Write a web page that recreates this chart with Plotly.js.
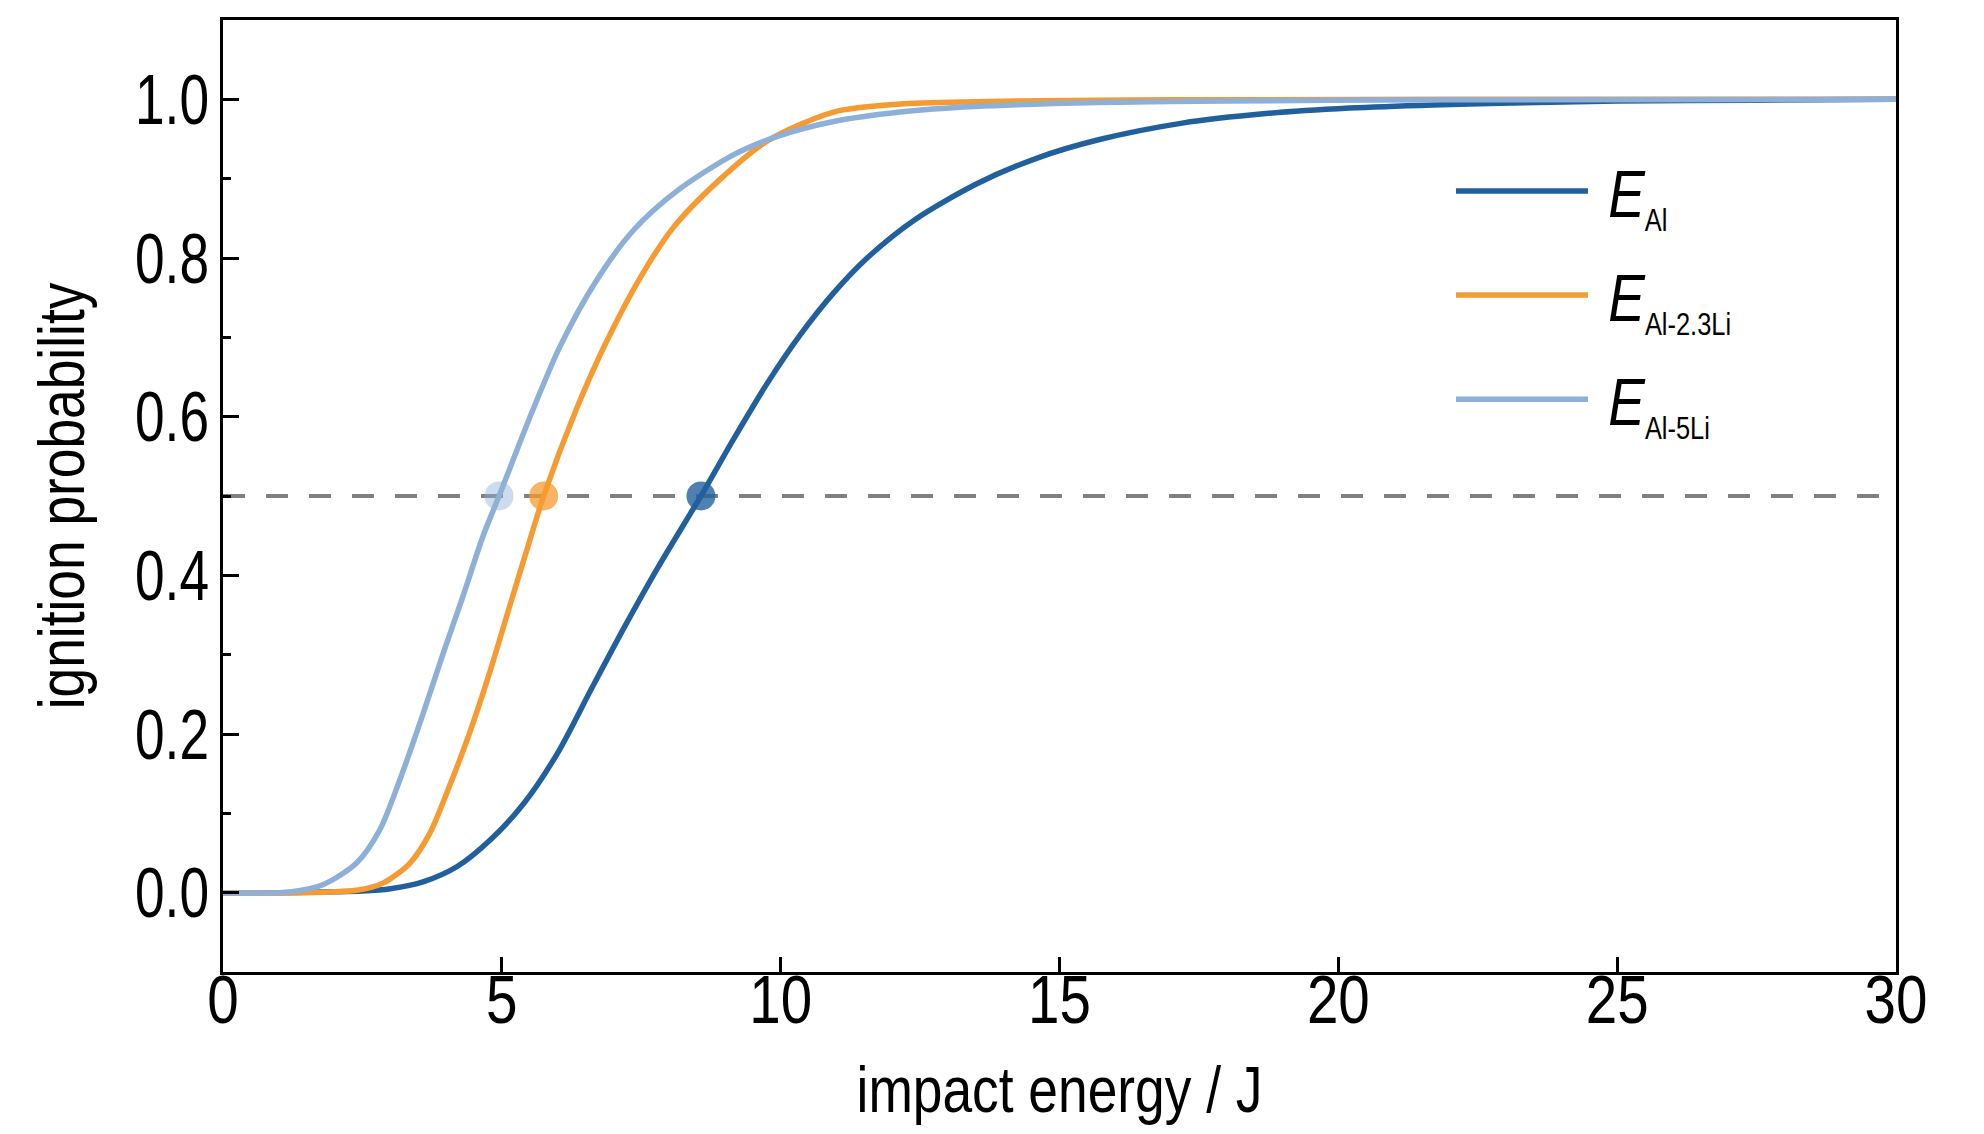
<!DOCTYPE html>
<html>
<head>
<meta charset="utf-8">
<script src="https://cdn.plot.ly/plotly-3.0.1.min.js"></script>
<style>
  html, body { margin: 0; padding: 0; background: #fff; }
  #graph { width: 1984px; height: 1134px; }
</style>
</head>
<body>
<div id="graph"></div>
<script>
// impact energy (J) vs. ignition probability
const energyAl = [0, 1, 2, 2.5, 3, 3.6, 4.2, 4.8, 5.4, 6, 6.6, 7.2, 7.8, 8.57, 9.15, 9.75, 10.35, 10.95, 11.55, 12.4, 13.5, 14.6, 15.7, 17.2, 18.7, 20.2, 21.7, 22.9, 25, 27.5, 30];
const probAl   = [0, 0, 0.001, 0.002, 0.005, 0.014, 0.033, 0.067, 0.113, 0.176, 0.256, 0.335, 0.41, 0.5, 0.571, 0.641, 0.703, 0.756, 0.8, 0.848, 0.893, 0.926, 0.949, 0.97, 0.982, 0.989, 0.993, 0.995, 0.998, 0.999, 1.0];

const energyAl23 = [0, 1.5, 2.4, 2.87, 3.35, 3.71, 4.06, 4.42, 4.78, 5.14, 5.44, 5.75, 6.34, 6.88, 7.48, 8.07, 8.85, 9.75, 10.95, 12.14, 13.47, 15.7, 18, 22, 30];
const probAl23   = [0, 0, 0.003, 0.012, 0.037, 0.075, 0.134, 0.201, 0.277, 0.361, 0.43, 0.5, 0.61, 0.695, 0.775, 0.838, 0.895, 0.947, 0.984, 0.994, 0.997, 0.999, 0.9995, 1.0, 1.0];

const energyAl5 = [0, 1.2, 1.79, 2.39, 2.81, 3.17, 3.59, 3.95, 4.3, 4.66, 4.95, 5.53, 6.04, 6.7, 7.36, 8.13, 9.15, 9.93, 10.95, 12.14, 13.47, 15.7, 18, 22, 30];
const probAl5   = [0, 0.001, 0.01, 0.037, 0.079, 0.142, 0.226, 0.302, 0.373, 0.449, 0.5, 0.604, 0.688, 0.772, 0.835, 0.884, 0.93, 0.953, 0.972, 0.984, 0.991, 0.996, 0.998, 0.9995, 1.0];

// E50 points (50 % ignition)
const e50 = [8.57, 5.75, 4.95];
const p50 = [0.5, 0.5, 0.5];

const seriesNames = ['Al', 'Al-2.3Li', 'Al-5Li'];
const lineColors = ['#22609d', '#f69b31', '#8eafd7'];
const dotColors = ['rgba(34,96,157,0.8)', 'rgba(246,155,49,0.75)', 'rgba(142,175,215,0.45)'];

// no Arial Narrow here: use Liberation Sans and squeeze it afterwards
const FONT = '"Liberation Sans", Arial, sans-serif';
const NARROW = 0.82;
const NARROW_YTICK = 0.76;

function legendName(s) {
    return '&nbsp;<i>E</i><sub><span style="font-size:31px">' + s + '</span></sub>';
}

var data = [];

// half-probability guide
data.push({
    x: [0, 30],
    y: [0.5, 0.5],
    mode: 'lines',
    type: 'scatter',
    line: {color: '#808080', width: 4, dash: '22px,21px'},
    showlegend: false,
    hoverinfo: 'skip'
});

for (let i = 0; i < 3; i++) {
    data.push({
        x: [e50[i]],
        y: [p50[i]],
        mode: 'markers',
        type: 'scatter',
        marker: {color: dotColors[i], size: 29, line: {width: 0}},
        showlegend: false
    });
}

const curves = [[energyAl, probAl], [energyAl23, probAl23], [energyAl5, probAl5]];
for (let i = 0; i < 3; i++) {
    data.push({
        x: curves[i][0],
        y: curves[i][1],
        name: legendName(seriesNames[i]),
        mode: 'lines',
        type: 'scatter',
        line: {color: lineColors[i], width: 5.5, shape: 'spline', smoothing: 0.8},
        legendgroup: 'g' + i
    });
}

const layout = {
    width: 1984,
    height: 1134,
    paper_bgcolor: '#fff',
    plot_bgcolor: '#fff',
    margin: {l: 223, r: 88, t: 20, b: 162},
    font: {family: FONT, color: '#000'},
    showlegend: true,
    legend: {
        x: 0.734,
        y: 0.873,
        xanchor: 'left',
        yanchor: 'top',
        bgcolor: 'rgba(0,0,0,0)',
        font: {family: FONT, size: 67, color: '#000'},
        itemwidth: 132,
        traceorder: 'grouped',
        tracegroupgap: 14
    },
    xaxis: {
        range: [0, 30],
        tick0: 0,
        dtick: 5,
        ticks: 'inside',
        ticklen: 15,
        tickwidth: 3,
        tickcolor: '#000',
        ticklabelstandoff: -35,
        showline: true,
        linewidth: 3,
        linecolor: '#000',
        mirror: true,
        showgrid: false,
        zeroline: false,
        automargin: false,
        tickfont: {size: 69},
        title: {text: 'impact energy / J', font: {size: 65}, standoff: 30}
    },
    yaxis: {
        range: [-0.1, 1.1],
        tick0: 0,
        dtick: 0.2,
        tickformat: '.1f',
        ticks: 'inside',
        ticklen: 16,
        tickwidth: 3,
        tickcolor: '#000',
        ticklabelstandoff: -3,
        minor: {dtick: 0.1, ticks: 'inside', ticklen: 8, tickwidth: 3, tickcolor: '#000', showgrid: false},
        showline: true,
        linewidth: 3,
        linecolor: '#000',
        mirror: true,
        showgrid: false,
        zeroline: false,
        automargin: false,
        tickfont: {size: 70},
        title: {text: 'ignition probability', font: {size: 65}, standoff: 6}
    }
};

function squeezeText(gd) {
    gd.querySelectorAll('text').forEach(function(t) {
        var w = t.getComputedTextLength();
        if (w > 0) {
            var k = t.parentNode.classList.contains('ytick') ? NARROW_YTICK : NARROW;
            t.setAttribute('textLength', (w * k).toFixed(1));
            t.setAttribute('lengthAdjust', 'spacingAndGlyphs');
        }
    });
}

Plotly.newPlot('graph', data, layout, {displayModeBar: false, staticPlot: true}).then(squeezeText);
</script>
</body>
</html>
